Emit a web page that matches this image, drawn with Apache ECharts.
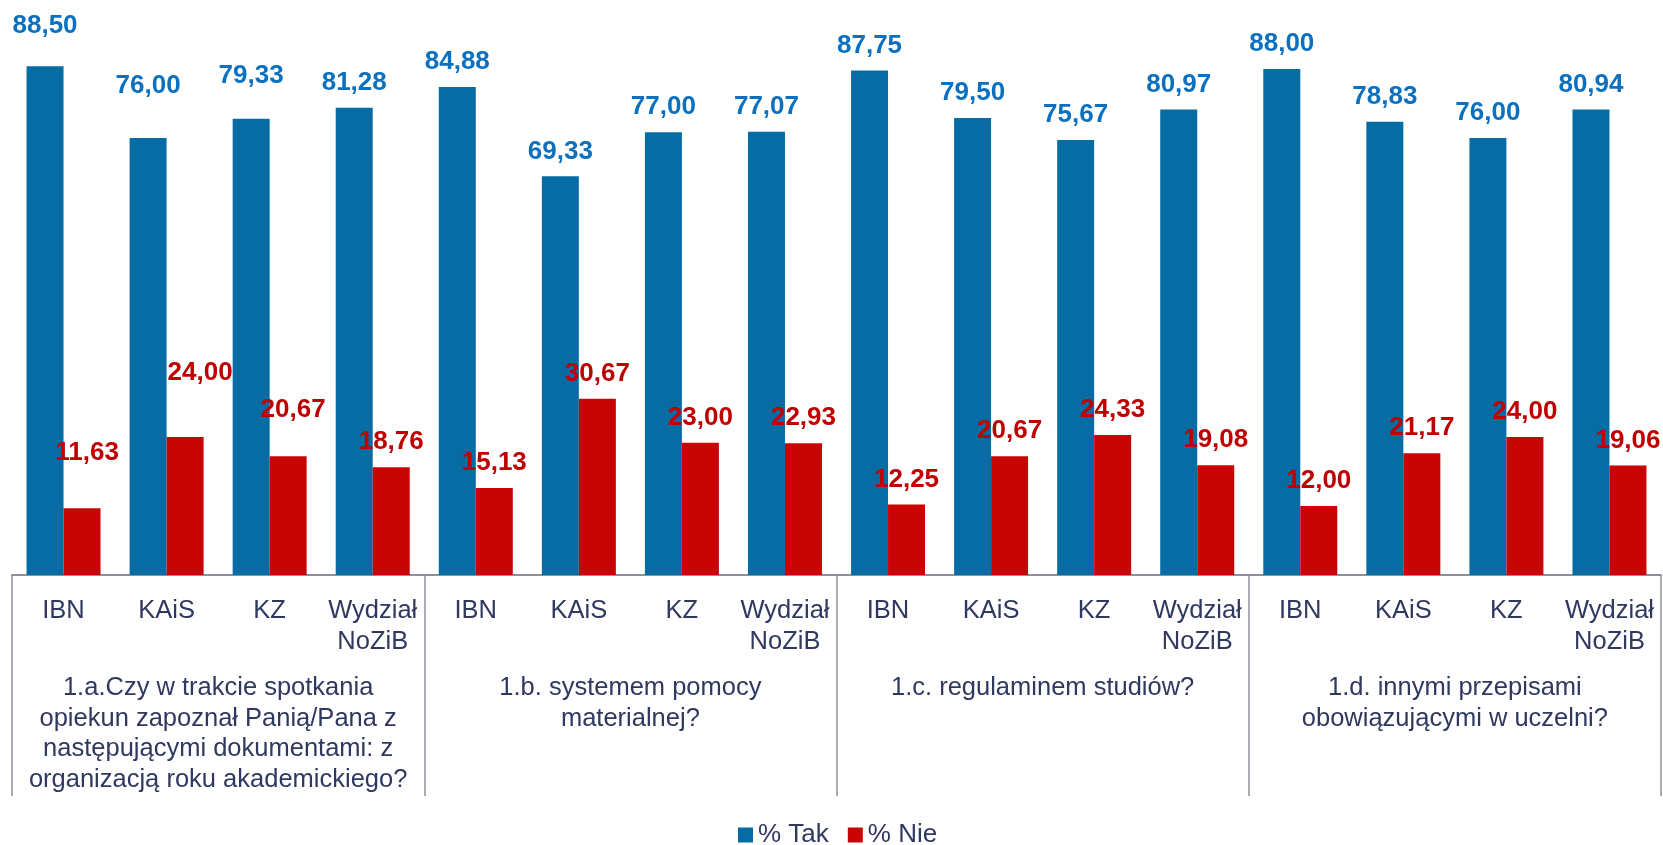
<!DOCTYPE html>
<html>
<head>
<meta charset="utf-8">
<script src="https://cdn.jsdelivr.net/npm/echarts@6/dist/echarts.min.js"></script>
<style>
html,body{margin:0;padding:0;background:#fff;}
#chart{width:1663px;height:845px;}
</style>
</head>
<body>
<div id="chart"></div>
<script>
// ---- data ----
var groups = [
  "1.a.Czy w trakcie spotkania\nopiekun zapoznał Panią/Pana z\nnastępującymi dokumentami: z\norganizacją roku akademickiego?",
  "1.b. systemem pomocy\nmaterialnej?",
  "1.c. regulaminem studiów?",
  "1.d. innymi przepisami\nobowiązującymi w uczelni?"
];
var units = ["IBN", "KAiS", "KZ", "Wydział\nNoZiB"];
var categories = [];
groups.forEach(function () { units.forEach(function (u) { categories.push(u); }); });

var tak = [88.50, 76.00, 79.33, 81.28, 84.88, 69.33, 77.00, 77.07, 87.75, 79.50, 75.67, 80.97, 88.00, 78.83, 76.00, 80.94];
var nie = [11.63, 24.00, 20.67, 18.76, 15.13, 30.67, 23.00, 22.93, 12.25, 20.67, 24.33, 19.08, 12.00, 21.17, 24.00, 19.06];
var seriesNames = ["% Tak", "% Nie"];

// label placement tweaks (style only: extra [dx, lift] in px for manually moved labels)
var takLabelShift = {0: [0, 15], 1: [0, 27], 2: [0, 18]};
var nieLabelShift = {0: [5, 30], 1: [15, 39], 2: [5, 21]};

var FONT = "'Liberation Sans', Arial, sans-serif";
var TEXT = "#2f3860";
var GRAYLINE = "#8d919d";

function fmt(p) { return p.value.toFixed(2).replace('.', ','); }
function build(values, shifts) {
  return values.map(function (v, i) {
    var item = {value: v};
    if (shifts[i]) item.label = {offset: [shifts[i][0], -shifts[i][1]]};
    return item;
  });
}

var chart = echarts.init(document.getElementById('chart'), null, {renderer: 'canvas'});
chart.setOption({
  animation: false,
  textStyle: {fontFamily: FONT},
  grid: {left: 12, right: 2, top: -4, bottom: 270, containLabel: false},
  legend: {
    data: seriesNames,
    left: 733, top: 817,
    itemWidth: 15, itemHeight: 15, itemGap: 19,
    icon: 'rect',
    textStyle: {fontFamily: FONT, fontSize: 26, color: TEXT}
  },
  xAxis: [{
    type: 'category',
    data: categories,
    axisLine: {show: true, lineStyle: {color: GRAYLINE, width: 2}},
    axisTick: {show: false},
    axisLabel: {interval: 0, margin: 20, fontFamily: FONT, fontSize: 25.5, color: TEXT, lineHeight: 31}
  }, {
    type: 'category',
    data: groups,
    position: 'bottom',
    axisLine: {show: false},
    axisTick: {show: true, interval: 0, length: 221, lineStyle: {color: GRAYLINE, width: 1.5}},
    axisLabel: {interval: 0, margin: 98, fontFamily: FONT, fontSize: 25.5, color: TEXT, lineHeight: 30.5, align: 'center'}
  }],
  yAxis: {type: 'value', min: 0, max: 100, show: false, splitLine: {show: false}},
  series: [{
    name: seriesNames[0], type: 'bar', xAxisIndex: 0,
    data: build(tak, takLabelShift),
    barWidth: 37, barGap: '0%',
    itemStyle: {color: '#076ca4'},
    label: {show: true, position: 'top', distance: 12, formatter: fmt,
      fontFamily: FONT, fontSize: 26, fontWeight: 'bold', color: '#0a70bf'}
  }, {
    name: seriesNames[1], type: 'bar', xAxisIndex: 0,
    data: build(nie, nieLabelShift),
    barWidth: 37, barGap: '0%',
    itemStyle: {color: '#c80404'},
    label: {show: true, position: 'top', distance: 12, formatter: fmt,
      fontFamily: FONT, fontSize: 26, fontWeight: 'bold', color: '#c00000'}
  }]
});
</script>
</body>
</html>
